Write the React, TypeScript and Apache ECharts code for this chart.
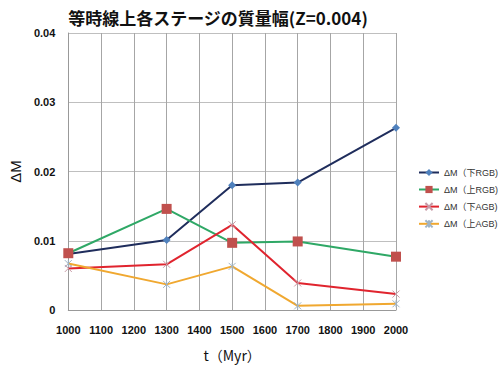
import React, { useEffect, useRef } from "react";
import * as echarts from "echarts";

const years = [1000, 1300, 1500, 1700, 2000];
const lowerRGB = [0.0081, 0.0101, 0.018, 0.0184, 0.0263];
const upperRGB = [0.0082, 0.0146, 0.0097, 0.0099, 0.0077];
const lowerAGB = [0.006, 0.0066, 0.0123, 0.0039, 0.0023];
const upperAGB = [0.0067, 0.0037, 0.0063, 0.0006, 0.0009];
const seriesNames = ["ΔM（下RGB)", "ΔM（上RGB)", "ΔM（下AGB)", "ΔM（上AGB)"];

const pair = (ys: number[]) => years.map((x, i) => [x, ys[i]]);

const X_SYMBOL = "path://M0,0L10,10M10,0L0,10";
const STAR_SYMBOL = "path://M0,0L10,10M10,0L0,10M5,0L5,10";

export default function App() {
  const ref = useRef<HTMLDivElement>(null);
  useEffect(() => {
    const chart = echarts.init(ref.current!, null, { renderer: "svg" });
    const font = "'Liberation Sans', Arial, sans-serif";
    const jp = "'Noto Sans CJK JP', sans-serif";
    chart.setOption({
      animation: false,
      backgroundColor: "#ffffff",
      textStyle: { fontFamily: font },
      title: {
        text: "等時線上各ステージの質量幅(Z=0.004)",
        left: 213,
        top: 4,
        textAlign: "center",
        textStyle: { fontSize: 17, fontWeight: "bold", color: "#111", fontFamily: jp },
      },
      legend: {
        orient: "vertical",
        left: 413,
        top: 163,
        itemWidth: 20,
        itemHeight: 9,
        itemGap: 8,
        textStyle: { fontSize: 9, color: "#333", fontFamily: "'Liberation Sans', 'Noto Sans CJK JP', sans-serif" },
        data: seriesNames,
      },
      grid: { left: 58, right: 104, top: 33, bottom: 54 },
      xAxis: {
        type: "value",
        min: 1000,
        max: 2000,
        interval: 100,
        name: "t（Myr）",
        nameLocation: "middle",
        nameGap: 38,
        nameTextStyle: { fontSize: 14, color: "#111", fontFamily: jp },
        axisLine: { lineStyle: { color: "#999" } },
        axisTick: { show: false },
        axisLabel: { fontSize: 11, fontWeight: "bold", color: "#111", margin: 14, formatter: (v: number) => String(v) },
        splitLine: { show: true, lineStyle: { color: "#a6a6a6", width: 1 } },
      },
      yAxis: {
        type: "value",
        min: 0,
        max: 0.04,
        interval: 0.01,
        name: "ΔM",
        nameLocation: "middle",
        nameGap: 38,
        nameTextStyle: { fontSize: 15, color: "#111" },
        axisLine: { show: true, lineStyle: { color: "#999" } },
        axisTick: { show: false },
        axisLabel: {
          fontSize: 11,
          fontWeight: "bold",
          color: "#111",
          margin: 13,
          formatter: (v: number) => (v === 0 ? "0" : v.toFixed(2)),
        },
        splitLine: { show: true, lineStyle: { color: "#bfbfbf", width: 1 } },
      },
      series: [
        {
          name: seriesNames[0],
          type: "line",
          data: pair(lowerRGB),
          symbol: "diamond",
          symbolSize: 8,
          lineStyle: { color: "#1f2d5c", width: 2 },
          itemStyle: { color: "#4f81bd" },
        },
        {
          name: seriesNames[1],
          type: "line",
          data: pair(upperRGB),
          symbol: "rect",
          symbolSize: 10,
          lineStyle: { color: "#2fa866", width: 2 },
          itemStyle: { color: "#c0504d" },
        },
        {
          name: seriesNames[2],
          type: "line",
          data: pair(lowerAGB),
          symbol: X_SYMBOL,
          symbolSize: 7,
          lineStyle: { color: "#e0242e", width: 2 },
          itemStyle: { color: "rgba(0,0,0,0)", borderColor: "#c79aa6", borderWidth: 1 },
        },
        {
          name: seriesNames[3],
          type: "line",
          data: pair(upperAGB),
          symbol: STAR_SYMBOL,
          symbolSize: 7,
          lineStyle: { color: "#f0a830", width: 2 },
          itemStyle: { color: "rgba(0,0,0,0)", borderColor: "#9fb4c6", borderWidth: 1 },
        },
      ],
    });
    return () => chart.dispose();
  }, []);
  return <div ref={ref} style={{ position: "fixed", left: 0, top: 0, width: 500, height: 367 }} />;
}
